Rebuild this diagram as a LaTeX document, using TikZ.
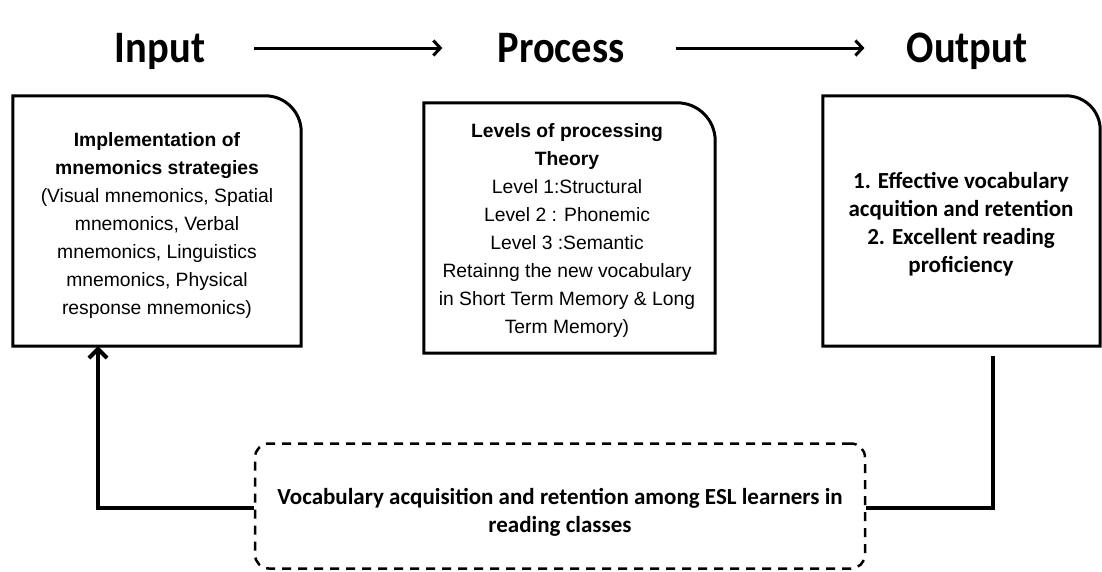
\documentclass[tikz,border=0pt]{standalone}
\usepackage{fontspec}
\setmainfont{Liberation Sans}
\newfontfamily\carl{Carlito}
\usetikzlibrary{arrows.meta,calc}
\begin{document}
\begin{tikzpicture}[x=1pt,y=-1pt,
  boxarea/.style={inner sep=0pt, align=center, font=\fontsize{19.3}{28}\selectfont},
  outtext/.style={inner sep=0pt, align=center, font=\carl\bfseries\fontsize{23}{28}\selectfont},
  shell/.style={inner sep=0pt},
  frame/.style={line width=3pt, line join=miter},
  conn/.style={line width=4pt},
  title/.style={inner sep=0pt, anchor=base, font=\carl\bfseries\fontsize{45}{50}\selectfont},
  tarrow/.style={line width=3pt, -{Straight Barb[length=7pt,width=15pt]}}
]
\useasboundingbox (0,0) rectangle (1102,571);
\fill[white] (0,0) rectangle (1102,571);

% titles
\node[title] (TI) at (160,62) {\scalebox{0.9}[1]{Input}};
\node[title] (TP) at (561,62) {\scalebox{0.9}[1]{Process}};
\node[title] (TO) at (967,62) {\scalebox{0.9}[1]{Output}};
\coordinate (AY) at (0,48);
\draw[tarrow, shorten <=49pt, shorten >=55pt] (TI.east |- AY) -- (TP.west |- AY);
\draw[tarrow, shorten <=51pt, shorten >=42pt] (TP.east |- AY) -- (TO.west |- AY);

% input box
\node[shell, minimum width=288pt, minimum height=250pt] (L) at (157,221) {};
\draw[frame] (L.south west) -- (L.north west) -- ([xshift=-36pt]L.north east)
  arc[start angle=90, end angle=0, radius=36pt] -- (L.south east) -- cycle;
\node[boxarea] (Lt) at (157,226)
 {\textbf{Implementation of}\\ \textbf{mnemonics strategies}\\ (Visual mnemonics, Spatial\\ mnemonics, Verbal\\ mnemonics, Linguistics\\ mnemonics, Physical\\ response mnemonics)};

% process box
\node[shell, minimum width=291pt, minimum height=250pt] (P) at (569.5,228) {};
\draw[frame] (P.south west) -- (P.north west) -- ([xshift=-38pt]P.north east)
  arc[start angle=90, end angle=0, radius=38pt] -- (P.south east) -- cycle;
\node[boxarea] (Pt) at (567,231)
 {\textbf{Levels of processing}\\ \textbf{Theory}\\ Level 1:Structural\\ Level 2 : Phonemic\\ Level 3 :Semantic\\ Retainng the new vocabulary\\ in Short Term Memory \& Long\\ Term Memory)};

% output box
\node[shell, minimum width=277pt, minimum height=250pt] (O) at (961.5,221) {};
\draw[frame] (O.south west) -- (O.north west) -- ([xshift=-34pt]O.north east)
  arc[start angle=90, end angle=0, radius=34pt] -- (O.south east) -- cycle;
\node[outtext] (Ot) at (961,224)
 {1. Effective vocabulary\\ acquition and retention\\ 2. Excellent reading\\ proficiency};

% bottom dashed box
\node[shell, draw, line width=2.5pt, dash pattern=on 9pt off 7pt, rounded corners=14pt,
  minimum width=610pt, minimum height=125pt] (D) at (560,506) {};
\node[outtext] (Dt) at (560,512)
 {Vocabulary acquisition and retention among ESL learners in\\ reading classes};

% connectors
\draw[conn, -{Straight Barb[length=9pt,width=18pt]}] (D.west |- 0,508) -| (L.south -| 98,0);
\coordinate (RS) at (993,356);
\draw[conn] (RS) |- (D.east |- 0,508);
\end{tikzpicture}
\end{document}
